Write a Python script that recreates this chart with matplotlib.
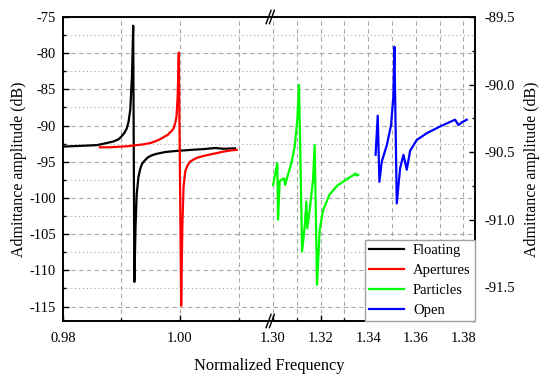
import numpy as np
import matplotlib.pyplot as plt
from matplotlib.ticker import FixedLocator, MultipleLocator, FormatStrFormatter

plt.rcParams['font.family'] = ['Liberation Serif', 'DejaVu Serif']

# Floating (left axis)
float_x = [0.9800, 0.9830, 0.9858, 0.9870, 0.9886, 0.9895, 0.9900, 0.9905, 0.9909, 0.9912,
           0.9915, 0.9918, 0.9920, 0.9922, 0.9924, 0.9926, 0.9929, 0.9932, 0.9935, 0.9940,
           0.9945, 0.9952, 0.9960, 0.9975, 0.9994, 1.0020, 1.0040, 1.0060, 1.0074, 1.0094]
float_y = [-92.9, -92.8, -92.7, -92.5, -92.2, -91.9, -91.5, -91.0, -90.4, -89.5,
           -87.8, -83.0, -76.2, -111.6, -104.0, -99.5, -97.1, -96.0, -95.3, -94.8,
           -94.4, -94.1, -93.9, -93.65, -93.5, -93.35, -93.25, -93.1, -93.2, -93.15]

# Apertures (left axis)
apert_x = [0.9863, 0.9880, 0.9910, 0.9937, 0.9950, 0.9960, 0.9968, 0.9974, 0.9979, 0.9981,
           0.9985, 0.9989, 0.9992, 0.9994, 0.9996, 0.9998, 1.0002, 1.0004, 1.0006, 1.0009,
           1.0013, 1.0017, 1.0023, 1.0029, 1.0040, 1.0051, 1.0063, 1.0074, 1.0085, 1.0097]
apert_y = [-93.0, -93.0, -92.85, -92.6, -92.4, -92.1, -91.8, -91.5, -91.3, -91.1,
           -90.8, -90.4, -89.6, -88.8, -86.0, -79.9, -114.9, -104.0, -98.5, -96.3,
           -95.5, -95.0, -94.7, -94.45, -94.2, -94.0, -93.8, -93.6, -93.45, -93.35]

# Particles (left axis)
part_x = [1.3000, 1.3018, 1.3021, 1.3028, 1.3034, 1.3046, 1.3051, 1.3060, 1.3077, 1.3091,
          1.3102, 1.3109, 1.3116, 1.3122, 1.3133, 1.3140, 1.3144, 1.3154, 1.3168, 1.3175,
          1.3185, 1.3196, 1.3210, 1.3238, 1.3270, 1.3310, 1.3340, 1.3346, 1.3352, 1.3358]
part_y = [-98.2, -95.2, -103.0, -97.7, -97.5, -97.3, -98.2, -97.1, -95.2, -92.9,
          -89.2, -84.4, -96.1, -107.4, -104.0, -100.5, -104.2, -101.7, -97.5, -92.7,
          -112.0, -104.4, -101.7, -99.5, -98.3, -97.4, -96.8, -96.6, -96.9, -96.8]

# Open (right axis)
open_x = [1.3431, 1.3440, 1.3447, 1.3457, 1.3478, 1.3496, 1.3506, 1.3510, 1.3520, 1.3534,
          1.3548, 1.3562, 1.3576, 1.3604, 1.3646, 1.3702, 1.3765, 1.3779, 1.3793, 1.3814]
open_y = [-90.52, -90.23, -90.72, -90.57, -90.45, -90.30, -90.08, -89.72, -90.88, -90.62,
          -90.52, -90.63, -90.49, -90.41, -90.36, -90.31, -90.26, -90.30, -90.28, -90.26]

major_x = [0.98, 1.00, 1.30, 1.32, 1.34, 1.36, 1.38]
minor_x = [0.99, 1.01, 1.31, 1.33, 1.35, 1.37]

# broken x axis: two linear pieces joined at the break
L0, L1 = 0.98, 1.01556
R0, R1 = 1.29916, 1.38487
brk = 0.505


def fwd(x):
    x = np.asarray(x, float)
    return np.where(x < 1.15, (x - L0) / (L1 - L0) * brk,
                    brk + (x - R0) / (R1 - R0) * (1 - brk))


def inv(u):
    u = np.asarray(u, float)
    return np.where(u < brk, L0 + u / brk * (L1 - L0),
                    R0 + (u - brk) / (1 - brk) * (R1 - R0))


fig = plt.figure(figsize=(5.5, 3.74), dpi=100)
ax = fig.add_axes([0.1145, 0.1417, 0.7491, 0.8128])
ax.set_xscale('function', functions=(fwd, inv))
ax.set_xlim(0.98, R1)
ax.set_ylim(-117, -75)

l1, = ax.plot(float_x, float_y, color='black', lw=1.6, label='Floating')
l2, = ax.plot(apert_x, apert_y, color='red', lw=1.6, label='Apertures')
l3, = ax.plot(part_x, part_y, color='#00ff00', lw=1.6, label='Particles')

ax2 = ax.twinx()
ax2.set_ylim(-91.75, -89.5)
l4, = ax2.plot(open_x, open_y, color='blue', lw=1.6, label='Open')

ax.xaxis.set_major_locator(FixedLocator(major_x))
ax.xaxis.set_minor_locator(FixedLocator(minor_x))
ax.xaxis.set_major_formatter(FormatStrFormatter('%.2f'))
ax.xaxis.set_minor_formatter(FormatStrFormatter(''))
ax.yaxis.set_major_locator(MultipleLocator(5))
ax.yaxis.set_minor_locator(MultipleLocator(2.5))
ax.yaxis.set_major_formatter(FormatStrFormatter('%d'))
ax2.yaxis.set_major_locator(MultipleLocator(0.5))
ax2.yaxis.set_minor_locator(MultipleLocator(0.25))
ax2.yaxis.set_major_formatter(FormatStrFormatter('%.1f'))

ax.grid(True, which='major', axis='y', color='#a8a8a8', ls=(0, (4, 3)), lw=0.8)
ax.grid(True, which='minor', axis='y', color='#a8a8a8', ls=(0, (1, 2.5)), lw=0.8)
ax.grid(True, which='both', axis='x', color='#a8a8a8', ls=(0, (4, 3)), lw=0.8)

for a in (ax, ax2):
    a.tick_params(which='both', direction='in', labelsize=10.5, width=1)
    a.tick_params(which='major', length=4)
    a.tick_params(which='minor', length=2.5)
    for s in a.spines.values():
        s.set_linewidth(1.2)
ax.tick_params(which='both', right=False, top=False)
ax.tick_params(axis='y', pad=5)
ax.tick_params(axis='x', pad=8)
ax2.tick_params(axis='y', pad=7)

ax.set_xlabel('Normalized Frequency', fontsize=11.8, labelpad=9)
ax.set_ylabel('Admittance amplitude (dB)', fontsize=11.5, labelpad=2)
ax2.set_ylabel('Admittance amplitude (dB)', fontsize=11.5, labelpad=6)

# break marks
for yb in (0, 1):
    for dx in (-0.006, 0.002):
        ax.plot([brk + dx - 0.006, brk + dx + 0.006], [yb - 0.022, yb + 0.022],
                transform=ax.transAxes, color='black', lw=1, clip_on=False, zorder=5)

leg = ax2.legend(handles=[l1, l2, l3, l4], loc='lower right', fontsize=10.5,
                 fancybox=False, framealpha=1, edgecolor='#a0a0a0',
                 borderaxespad=0, handlelength=2.4, labelspacing=0.45,
                 borderpad=0.3, handletextpad=0.6)
leg.get_frame().set_linewidth(1)

fig.savefig('out.png', dpi=100)
